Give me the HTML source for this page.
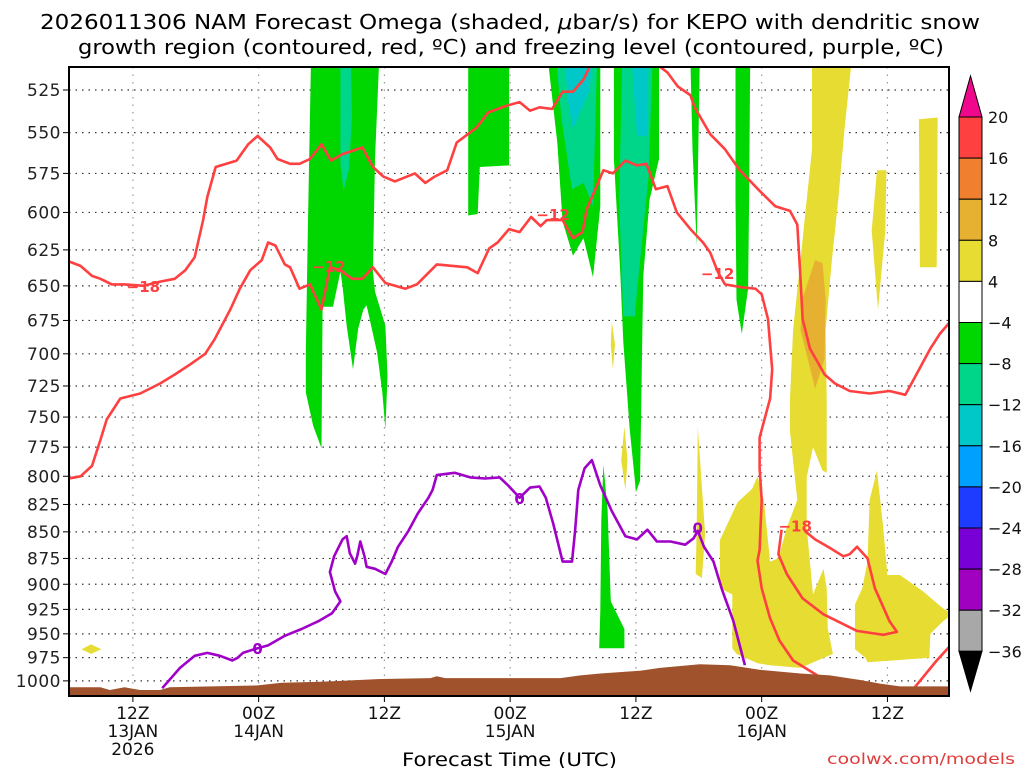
<!DOCTYPE html>
<html><head><meta charset="utf-8">
<style>
html,body{margin:0;padding:0;background:#fff;}
svg{display:block;font-family:"DejaVu Sans","Liberation Sans",sans-serif;}
</style></head>
<body>
<svg id="chart" width="1024" height="768" viewBox="0 0 1024 768" xmlns="http://www.w3.org/2000/svg">
<defs><clipPath id="plotclip"><rect x="69" y="67" width="880" height="629"/></clipPath></defs>
<rect x="0" y="0" width="1024" height="768" fill="#fff"/>
<text x="40" y="29" textLength="940" lengthAdjust="spacingAndGlyphs" font-size="20" fill="#000">2026011306 NAM Forecast Omega (shaded, <tspan font-style="italic">μ</tspan>bar/s) for KEPO with dendritic snow</text>
<text x="78" y="54" textLength="866" lengthAdjust="spacingAndGlyphs" font-size="20" fill="#000">growth region (contoured, red, ºC) and freezing level (contoured, purple, ºC)</text>
<g id="grid"></g>
<g id="fills" clip-path="url(#plotclip)"></g>
<g id="lines" clip-path="url(#plotclip)"></g>
<g id="terrain" clip-path="url(#plotclip)"></g>
<g id="labels"></g>
<rect x="69" y="67" width="880" height="629" fill="none" stroke="#000" stroke-width="2"/>
<g id="axes"></g>
<g id="colorbar"></g>
<text x="402" y="766" textLength="215" lengthAdjust="spacingAndGlyphs" font-size="19" fill="#000">Forecast Time (UTC)</text>
<text x="827" y="764" textLength="188" lengthAdjust="spacingAndGlyphs" font-size="15" fill="#e03c3c">coolwx.com/models</text>
</svg>
<script>
// ---- data (hours since 06Z 13JAN, pressure hPa) ----
const pressureTicks = [525,550,575,600,625,650,675,700,725,750,775,800,825,850,875,900,925,950,975,1000];
const timeTicksHours = [6,18,30,42,54,66,78];
const timeTickLabels = [["12Z","13JAN","2026"],["00Z","14JAN"],["12Z"],["00Z","15JAN"],["12Z"],["00Z","16JAN"],["12Z"]];
const cbarLevels = ["20","16","12","8","4","−4","−8","−12","−16","−20","−24","−28","−32","−36"];
const cbarColors = ["#ff4040","#f08030","#e6b030","#e6dc32","#ffffff","#00d600","#00d68a","#00c8c8","#00a0ff","#1e3cff","#7800d6","#a000c0","#a8a8a8"];

const freezeLevel = [[8.8,1008],[10.5,986],[11.9,973],[13.1,970],[14.3,973],[15.5,978],[16,975],[16.5,970],[17.9,965],[18.9,962],[20.5,952],[22.1,945],[23.7,937],[25,929],[25.8,917],[25.3,907],[24.8,888],[25.2,873],[26,857],[26.4,854],[26.7,870],[27.2,880],[27.4,873],[27.7,859],[28.1,873],[28.3,883],[29.1,885],[30.1,890],[30.7,878],[31.3,864],[32.3,849],[33.2,833],[34.2,819],[34.6,812],[35,799],[36.7,797],[38.2,801],[39.6,802],[41,801],[41.8,808],[42.9,819],[43.9,810],[44.8,809],[45.4,819],[46.1,842],[47,878],[47.9,878],[48.2,849],[48.5,812],[49.1,793],[49.8,786],[50.6,808],[51.7,831],[53,854],[54.1,857],[55.1,848],[56,859],[57.3,859],[58.7,862],[59.5,856],[59.9,849],[60.5,864],[61.4,878],[62.2,905],[63.3,937],[64.4,983]];
const freezeLabels = [[17.9,965],[42.9,819],[59.9,846]];

const minus18Line = [[-0.1,633],[1,636],[2.1,643],[2.9,645],[4,649],[5.2,649],[7,650],[8.6,647],[10,645],[11,639],[11.9,630],[12.7,605],[13.1,590],[13.9,571],[15.9,567],[17,557],[17.9,552],[19.1,559],[19.8,566],[21,569],[21.9,569],[22.9,566],[24,557],[24.9,567],[26,563],[27.9,559],[28.9,571],[29.9,577],[31,580],[32.9,575],[33.9,581],[34.8,577],[36,573],[36.9,556],[38.8,547],[39.9,538],[41.7,534],[42.9,532],[43.9,537],[44.8,535],[46,536],[47,526],[48,526],[49,519],[49.9,508],null,[55.4,508],[57,515],[58,523],[59.2,528],[59.6,535],[61.1,551],[62.5,560],[63.9,573],[65.8,586],[67.3,596],[68.7,599],[69.4,608],[69.7,645],[69.9,674],[70.6,696],[72,716],[73,723],[74.4,729],[76.3,731],[78.2,729],[79.7,732],[80.3,723],[82.1,696],[83,685],[84.2,674]];
const minus12Line = [[-0.1,802],[1,800],[2.1,791],[2.9,769],[3.5,752],[4.8,735],[6.7,731],[8.6,723],[10,716],[11.5,708],[12.9,700],[13.8,689],[15.3,667],[16.2,652],[17.2,639],[18.3,632],[18.9,620],[19.6,622],[20.5,635],[21,637],[21.9,652],[22.9,649],[24,667],[24.8,637],[25.8,639],[26.9,645],[27.9,645],[28.9,637],[30.1,648],[32,652],[33.1,649],[35,635],[37.9,637],[38.9,641],[40,624],[40.8,620],[41.9,611],[42.9,613],[44,603],[44.9,609],[45.5,605],[47,605],[48,617],[48.9,613],[49.3,598],[50.9,573],[51.8,575],[53,567],[54.1,570],[55,569],[55.9,585],[57,583],[57.9,600],[59.2,611],[60.4,620],[61.1,627],[61.8,640],[62.5,649],[64.1,651],[65.4,652],[66,656],[66.6,674],[67,712],[66.8,735],[65.8,767],[65.8,793],[66,821],[65.8,867],[65.6,877],[66,904],[66.8,934],[67.7,957],[69,978],[71.3,994],[73,1002]];
const minus18Loop = [[67.9,848],[67.6,871],[68.4,890],[69.9,914],[71.9,930],[75.1,947],[77.6,951],[78.9,948],[78.2,937],[76.8,904],[76.1,875],[75.1,864],[74.4,871],[73.8,873],[72.5,865],[71.1,857],[70.1,849]];
const minus12Right = [[80.6,1007],[82.7,978],[84.2,960]];
const redLabels = [["−18",7,650],["−12",24.7,636],["−12",46.1,601],["−12",61.8,641],["−18",69.2,844]];

const green1 = [[23,508],[29.5,508],[29.1,566],[28.9,640],[29.1,654],[30.1,679],[30.3,717],[30.1,760],[29.8,730],[29.3,699],[28.3,664],[28,667],[27.5,681],[27,712],[26.4,679],[26,650],[25.8,640],[25.1,665],[24.1,665],[24,776],[23.2,757],[22.5,730],[22.5,699],[22.7,609]];
const teal1 = [[25.8,508],[26.8,508],[26.9,542],[26.6,573],[26.1,586],[25.8,569]];
const green2 = [[38,508],[41.9,508],[41.9,570],[39.1,571],[38.9,601],[38,602]];
const green3 = [[45.6,508],[50.6,508],[50.6,596],[49.9,644],[49,617],[48,629],[47,606],[46.5,556]];
const teal3 = [[46.4,508],[50.3,508],[49.9,596],[49,581],[47.9,585],[46.9,542]];
const cyan3 = [[47.2,508],[49.8,508],[49.6,525],[48,548],[47.5,531]];
const green4 = [[51.9,508],[56.2,508],[56.2,566],[55.3,592],[54.7,643],[54.6,691],[54.4,804],[54,814],[53.9,804],[53.4,759],[52.8,691],[52.5,640],[51.9,566]];
const teal4 = [[52.7,508],[55.6,508],[55.2,577],[54.1,654],[53.9,672],[52.8,672],[52.4,592]];
const cyan4 = [[53.6,508],[55.2,508],[55.1,552],[54.1,552]];
const green5 = [[59.2,508],[60.1,508],[59.8,622],[59.4,560]];
const green6 = [[63.5,508],[64.9,508],[64.8,592],[64.7,652],[64.1,685],[63.6,660],[63.5,592]];
const green7 = [[50.9,790],[51.3,830],[51.6,917],[52.9,945],[52.9,965],[50.5,965],[50.6,927],[50.7,839]];
const yellow0 = [[1.1,966],[2,961],[3,966],[2,971]];
const yellowA = [[51.7,676],[52,693],[51.8,712],[51.6,693]];
const yellowB = [[52.9,758],[53.2,786],[53,812],[52.6,786]];
const yellowC = [[59.9,758],[60.6,852],[60.3,894],[59.7,890],[59.8,846]];
const yellowMain = [[62,858],[63.7,823],[65.1,811],[65.6,800],[66.2,821],[66.8,878],[67.6,875],[68.4,846],[69.4,821],[68.7,762],[68.7,735],[69,682],[69.7,632],[70.1,605],[70.8,560],[70.8,508],[74.6,508],[73.9,548],[73.3,592],[72.7,632],[72.1,682],[72.2,735],[72.2,797],[71.8,795],[70.9,775],[70.3,801],[70.3,846],[70.9,910],[71.9,885],[72.2,904],[72.3,944],[72.8,971],[69.7,986],[66.8,983],[65.6,981],[63.6,971],[63.2,965],[63.2,910],[62,904]];
const yellow2 = [[77,795],[77.6,846],[78,891],[79.2,891],[81.4,907],[83.3,924],[84.2,930],[83.3,937],[82.1,950],[82,975],[76.1,980],[75.9,975],[74.9,966],[74.9,920],[75.6,904],[76.1,878],[76.3,821]];
const yellow3 = [[77,573],[77.9,573],[77.8,612],[77.1,667],[76.5,612]];
const yellow4 = [[81,542],[82.8,541],[82.7,637],[81.1,637]];
const gold1 = [[71.1,632],[71.8,634],[72.1,659],[72,704],[71.1,727],[70.4,704],[69.7,682],[69.9,659]];
const terrainTop = [[-0.5,1007],[2.9,1007],[3.8,1010],[5.2,1007],[6.7,1010],[8.6,1010],[9.5,1007],[17.9,1005],[20.2,1002],[23.9,1001],[25.8,1000],[29.6,998],[34.4,997],[35,995],[35.8,997],[41,997],[46.8,997],[48.7,994],[50.6,992],[54.4,989],[56.3,986],[60.1,982],[63,983],[65.8,988],[69.7,992],[72.5,994],[75.4,999],[77.3,1003],[79.2,1006],[84.5,1006]];

// ---- axis functions ----
const X0=70, XS=10.48, Y0=90, YS=917, PREF=525;
function xScale(h){return X0+h*XS;}
function yScale(p){return Y0+YS*Math.log(p/PREF);}
const NS="http://www.w3.org/2000/svg";
function mk(tag,attrs,parent){const e=document.createElementNS(NS,tag);for(const k in attrs)e.setAttribute(k,attrs[k]);parent.appendChild(e);return e;}
function ptsStr(arr){return arr.map(d=>xScale(d[0]).toFixed(1)+","+yScale(d[1]).toFixed(1)).join(" ");}
function pathStr(arr){let s="",pen=false;arr.forEach(d=>{if(!d){pen=false;return;}s+=(pen?"L":"M")+xScale(d[0]).toFixed(1)+","+yScale(d[1]).toFixed(1);pen=true;});return s;}

const grid=document.getElementById('grid'), axes=document.getElementById('axes');
pressureTicks.forEach(p=>{
  const y=yScale(p);
  const gl=mk('line',{x1:69,x2:949,y1:y,y2:y,stroke:'#333','stroke-width':1.2,'stroke-dasharray':'1.5,5'},grid);
  
  
  const tk=mk('line',{x1:63,x2:69,y1:y,y2:y,stroke:'#000','stroke-width':1},axes);
  
  
  const t=mk('text',{x:61,y:y+6,'text-anchor':'end','font-size':17,fill:'#222','letter-spacing':'0.5'},axes);
  t.textContent=p;
  
  
});
timeTicksHours.forEach((h,i)=>{
  const x=xScale(h);
  const gl=mk('line',{x1:x,x2:x,y1:67,y2:696,stroke:'#999','stroke-width':1.2,'stroke-dasharray':'1.5,6'},grid);
  
  
  const tk=mk('line',{x1:x,x2:x,y1:696,y2:702,stroke:'#000','stroke-width':1},axes);
  
  
  timeTickLabels[i].forEach((s,j)=>{
    const t=mk('text',{x:x,y:719+j*18,'text-anchor':'middle','font-size':17,fill:'#111'},axes);
    t.textContent=s;
    
    
  });
});

const fills=document.getElementById('fills');
function poly(arr,color,name){
  const e=mk('polygon',{points:ptsStr(arr),fill:color},fills);
  
  
}
poly(green1,'#00d600','omega-green-1');
poly(teal1,'#00d68a','omega-teal-1');
poly(green2,'#00d600','omega-green-2');
poly(green3,'#00d600','omega-green-3');
poly(teal3,'#00d68a','omega-teal-3');
poly(cyan3,'#00c8c8','omega-cyan-3');
poly(green4,'#00d600','omega-green-4');
poly(teal4,'#00d68a','omega-teal-4');
poly(cyan4,'#00c8c8','omega-cyan-4');
poly(green5,'#00d600','omega-green-5');
poly(green6,'#00d600','omega-green-6');
poly(green7,'#00d600','omega-green-7');
poly(yellow0,'#e6dc32','omega-yellow-0');
poly(yellowA,'#e6dc32','omega-yellow-a');
poly(yellowB,'#e6dc32','omega-yellow-b');
poly(yellowC,'#e6dc32','omega-yellow-c');
poly(yellowMain,'#e6dc32','omega-yellow-main');
poly(yellow2,'#e6dc32','omega-yellow-2');
poly(yellow3,'#e6dc32','omega-yellow-3');
poly(yellow4,'#e6dc32','omega-yellow-4');
poly(gold1,'#e6b030','omega-gold-1');

const lines=document.getElementById('lines');
function line(arr,color,name,closed){
  const e=mk('path',{d:pathStr(arr)+(closed?"Z":""),fill:'none',stroke:color,'stroke-width':2.6,'stroke-linejoin':'round'},lines);
  
  
}
line(minus18Line,'#ff4040','isotherm-minus18');
line(minus12Line,'#ff4040','isotherm-minus12');
line(minus18Loop,'#ff4040','isotherm-minus18-loop',false);
line(minus12Right,'#ff4040','isotherm-minus12-right');
line(freezeLevel,'#a000c8','freezing-level');

const terr=document.getElementById('terrain');
const tp=terrainTop.map(d=>xScale(d[0]).toFixed(1)+","+yScale(d[1]).toFixed(1)).join(" ");
const te=mk('polygon',{points:tp+" "+xScale(84.5)+",700 "+xScale(-0.5)+",700",fill:'#a0522d'},terr);



const labels=document.getElementById('labels');
redLabels.forEach(d=>{
  const x=xScale(d[1]), y=yScale(d[2]);
  const t=mk('text',{x:x,y:y+6,'text-anchor':'middle','font-size':15,'font-weight':'bold',fill:'#ff4040'},labels);
  t.textContent=d[0];
  
  
});
freezeLabels.forEach(d=>{
  const t=mk('text',{x:xScale(d[0]),y:yScale(d[1])+6,'text-anchor':'middle','font-size':15,'font-weight':'bold',fill:'#a000c8'},labels);
  t.textContent="0";
  
  
});

// colorbar
const cb=document.getElementById('colorbar');
const cbX=959, cbW=23, cbTop=117, cbStep=41.1;
const topTri=mk('polygon',{points:`${cbX},${cbTop} ${cbX+cbW},${cbTop} ${cbX+cbW/2},76`,fill:'#f0088c',stroke:'#000','stroke-width':1},cb);


cbarColors.forEach((c,i)=>{
  const r=mk('rect',{x:cbX,y:cbTop+i*cbStep,width:cbW,height:cbStep,fill:c,stroke:'#000','stroke-width':1},cb);
  
  
});
const bot=cbTop+cbarColors.length*cbStep;
const botTri=mk('polygon',{points:`${cbX},${bot} ${cbX+cbW},${bot} ${cbX+cbW/2},691`,fill:'#000',stroke:'#000','stroke-width':1},cb);


cbarLevels.forEach((s,i)=>{
  const t=mk('text',{x:988,y:cbTop+i*cbStep+6,'font-size':16,fill:'#111'},cb);
  t.textContent=s;
  
  
});
</script>
</body></html>
